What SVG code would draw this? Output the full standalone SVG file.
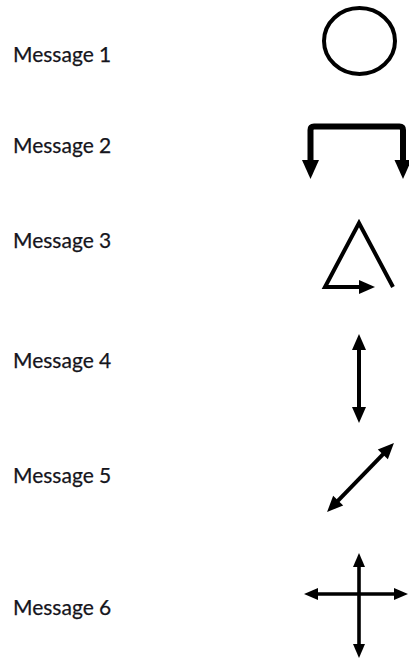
<svg xmlns="http://www.w3.org/2000/svg" width="409" height="661" viewBox="0 0 409 661">
  <style>
    .label { font-family: Lato, "Liberation Sans", sans-serif; font-size: 21px; fill: #15151c; stroke: #15151c; stroke-width: 0.25; }
    .shape { fill: none; stroke: #000; stroke-width: 4; }
    .thick { stroke-width: 6; stroke-linejoin: round; }
    .thin { stroke-width: 3.6; }
  </style>
  <defs>
    <marker id="headBig" markerUnits="userSpaceOnUse" orient="auto-start-reverse" overflow="visible" markerWidth="1" markerHeight="1">
      <path d="M-5,-8.5 L14,0 L-5,8.5 z" fill="#000"/>
    </marker>
    <marker id="head" markerUnits="userSpaceOnUse" orient="auto-start-reverse" overflow="visible" markerWidth="1" markerHeight="1">
      <path d="M-4,-7 L12,0 L-4,7 z" fill="#000"/>
    </marker>
    <marker id="headSmall" markerUnits="userSpaceOnUse" orient="auto-start-reverse" overflow="visible" markerWidth="1" markerHeight="1">
      <path d="M-3,-6 L11,0 L-3,6 z" fill="#000"/>
    </marker>
  </defs>

  <g id="labels">
    <text class="label" x="13" y="62">Message 1</text>
    <text class="label" x="13" y="153">Message 2</text>
    <text class="label" x="13" y="248">Message 3</text>
    <text class="label" x="13" y="368">Message 4</text>
    <text class="label" x="13" y="483">Message 5</text>
    <text class="label" x="13" y="615">Message 6</text>
  </g>

  <g id="node-circle">
    <ellipse class="shape" cx="359.5" cy="41" rx="35.5" ry="33"/>
  </g>

  <g id="connectors">
    <!-- bracket with two downward heads -->
    <path id="msg2" class="shape thick" d="M310.5,165 V130 Q310.5,126.5 314,126.5 H399.5 Q403,126.5 403,130 V165" marker-start="url(#headBig)" marker-end="url(#headBig)"/>
    <!-- triangle loop ending in a right-pointing head -->
    <path id="msg3" class="shape" d="M393,287 L359,223 L325,287 H363" stroke-miterlimit="10" marker-end="url(#head)"/>
    <!-- vertical double arrow -->
    <path id="msg4" class="shape" d="M359,346 V411" marker-start="url(#head)" marker-end="url(#head)"/>
    <!-- diagonal double arrow -->
    <path id="msg5" class="shape" d="M335.4,503.4 L385.6,451.6" marker-start="url(#head)" marker-end="url(#head)"/>
    <!-- cross of four heads -->
    <path id="msg6v" class="shape thin" d="M359,564 V647" marker-start="url(#headSmall)" marker-end="url(#headSmall)"/>
    <path id="msg6h" class="shape thin" d="M315,594 H397" marker-start="url(#headSmall)" marker-end="url(#headSmall)"/>
  </g>
</svg>
